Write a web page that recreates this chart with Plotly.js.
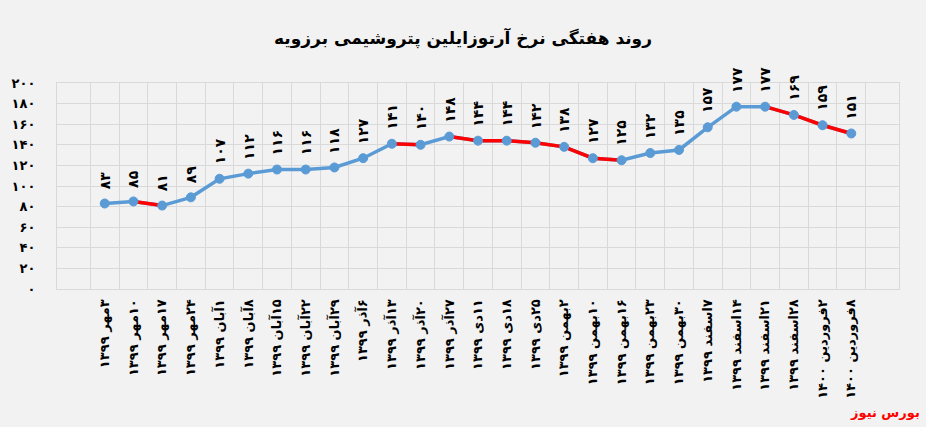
<!DOCTYPE html>
<html>
<head>
<meta charset="utf-8">
<script src="https://cdn.plot.ly/plotly-3.0.1.min.js"></script>
<style>html,body{margin:0;padding:0;background:#f2f2f2;}#chart{width:926px;height:427px;}</style>
</head>
<body>
<div id="chart"></div>
<script>
const categories = [
  "۳مهر ۱۳۹۹","۱۰مهر ۱۳۹۹","۱۷مهر ۱۳۹۹","۲۴مهر ۱۳۹۹","۱آبان ۱۳۹۹","۸آبان ۱۳۹۹","۱۵آبان ۱۳۹۹",
  "۲۲آبان ۱۳۹۹","۲۹آبان ۱۳۹۹","۶آذر ۱۳۹۹","۱۳آذر ۱۳۹۹","۲۰آذر ۱۳۹۹","۲۷آذر ۱۳۹۹","۱۱دی ۱۳۹۹",
  "۱۸دی ۱۳۹۹","۲۵دی ۱۳۹۹","۲بهمن ۱۳۹۹","۱۰بهمن ۱۳۹۹","۱۶بهمن ۱۳۹۹","۲۳بهمن ۱۳۹۹","۳۰بهمن ۱۳۹۹",
  "۷اسفند ۱۳۹۹","۱۴اسفند ۱۳۹۹","۲۱اسفند ۱۳۹۹","۲۸اسفند ۱۳۹۹","۲فروردین ۱۴۰۰","۸فروردین ۱۴۰۰"
];
const values = [83,85,81,89,107,112,116,116,118,127,141,140,148,144,144,142,138,127,125,132,135,157,177,177,169,159,151];
// start indices of segments drawn in red
const redSegmentStarts = [1,10,12,13,14,15,16,17,23,24,25];
const yTickValues = [0,20,40,60,80,100,120,140,160,180,200];

const faDigits = "۰۱۲۳۴۵۶۷۸۹";
function toFa(n){ return String(n).replace(/[0-9]/g, d => faDigits[+d]); }
function rtl(s){ return "\u202B" + s + "\u202C"; }

// build red segments with gaps
const redX = [], redY = [];
let prevEnd = -2;
redSegmentStarts.forEach(s => {
  if (s !== prevEnd) {
    if (redX.length) { redX.push(null); redY.push(null); }
    redX.push(categories[s]); redY.push(values[s]);
  }
  redX.push(categories[s+1]); redY.push(values[s+1]);
  prevEnd = s + 1;
});

const FONT = "DejaVu Sans, Noto Sans, sans-serif";

const traces = [
  {x: categories, y: values, type: "scatter", mode: "lines",
   line: {color: "#5b9bd5", width: 3.5}, hoverinfo: "skip"},
  {x: redX, y: redY, type: "scatter", mode: "lines", connectgaps: false,
   line: {color: "#ff0000", width: 3.5}, hoverinfo: "skip"},
  {x: categories, y: values, type: "scatter", mode: "markers",
   marker: {color: "#5b9bd5", size: 9, line: {color: "#5b9bd5", width: 1}}, hoverinfo: "skip"}
];

const annotations = values.map((v, i) => ({
  x: categories[i], y: v, xref: "x", yref: "y",
  text: toFa(v), textangle: -90, showarrow: false,
  yanchor: "bottom", xanchor: "center", yshift: 12,
  font: {family: FONT, size: 14, color: "#000", weight: "bold"}
}));
annotations.push({
  xref: "paper", yref: "paper", x: 1.027, y: -0.6, xanchor: "right", yanchor: "middle",
  text: "بورس نیوز", showarrow: false,
  font: {family: FONT, size: 13, color: "#ff0000", weight: "bold"}
});

const layout = {
  width: 926, height: 427,
  margin: {l: 57, r: 27, t: 83, b: 138},
  paper_bgcolor: "#f2f2f2", plot_bgcolor: "#f2f2f2",
  showlegend: false,
  title: {text: "روند هفتگی نرخ آرتوزایلین پتروشیمی برزویه", x: 0.5, xanchor: "center",
          y: 0.91, yanchor: "middle",
          font: {family: FONT, size: 17, color: "#000", weight: "bold"}},
  xaxis: {type: "category", tickangle: -90, tickson: "boundaries", ticks: "",
          tickvals: categories, ticktext: categories.map(rtl), ticklabelstandoff: 4,
          showgrid: true, gridcolor: "#d9d9d9", gridwidth: 1,
          showline: true, linecolor: "#d9d9d9", mirror: true, zeroline: false,
          tickfont: {family: FONT, size: 13, color: "#000", weight: "bold"}},
  yaxis: {range: [0, 200], tickvals: yTickValues, ticktext: yTickValues.map(toFa),
          showgrid: true, gridcolor: "#d9d9d9", gridwidth: 1, zeroline: false,
          showline: true, linecolor: "#d9d9d9", mirror: true, ticks: "",
          ticklabelstandoff: 18,
          tickfont: {family: FONT, size: 13, color: "#000", weight: "bold"}},
  annotations: annotations
};

Plotly.newPlot("chart", traces, layout, {staticPlot: true, displayModeBar: false});
</script>
</body>
</html>
